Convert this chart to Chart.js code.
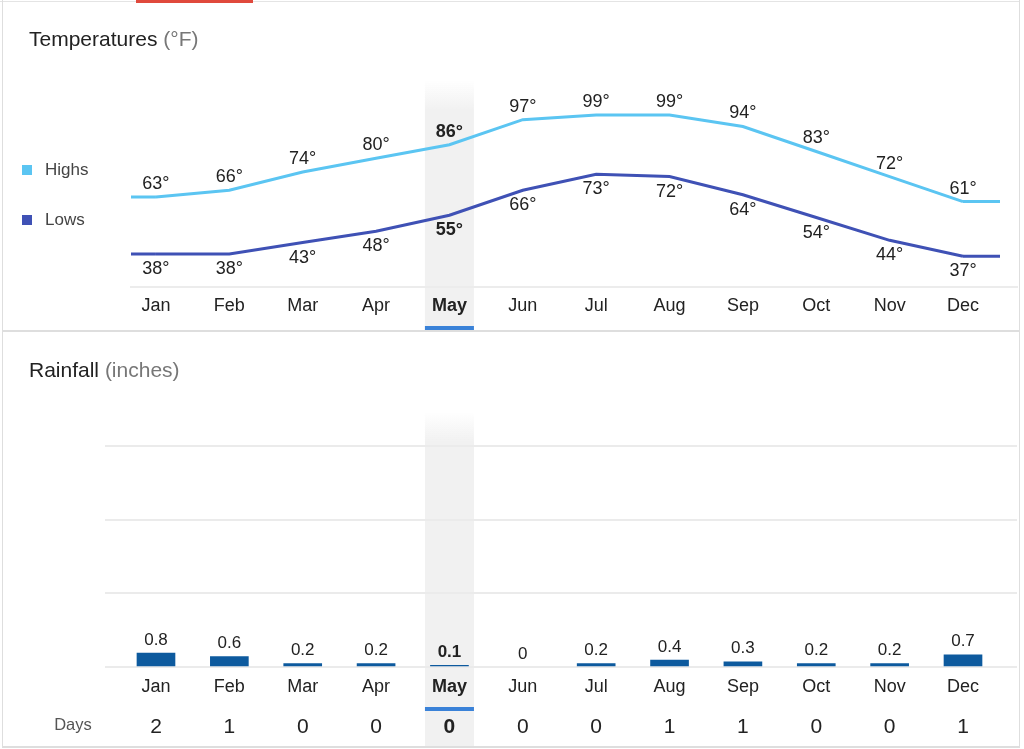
<!DOCTYPE html>
<html><head><meta charset="utf-8">
<script src="https://cdn.jsdelivr.net/npm/chart.js@4.4.0/dist/chart.umd.min.js"></script>
<style>
html,body{margin:0;padding:0;background:#fff;width:1024px;height:749px;overflow:hidden;font-family:"Liberation Sans",Arial,Helvetica,sans-serif;}
#wrap{position:relative;width:1024px;height:749px;}
.abs{position:absolute;}
.title{font-size:21px;line-height:24px;color:#222;white-space:nowrap;}
.title span{color:#777;}
.leg{font-size:17px;line-height:20px;color:#444;}
.sq{width:10px;height:10px;}
</style></head>
<body><div id="wrap">
<div class="abs" style="left:0;top:1px;width:1020px;height:1px;background:#e4e4e4"></div>
<div class="abs" style="left:136px;top:0;width:117px;height:3px;background:#e0493c"></div>
<div class="abs" style="left:2px;top:0;width:1px;height:748px;background:#dedede"></div>
<div class="abs" style="left:1019px;top:0;width:1px;height:748px;background:#dedede"></div>
<div class="abs" style="left:2px;top:746px;width:1018px;height:2px;background:#dedede"></div>

<canvas id="temp" class="abs" style="left:0;top:0" width="1024" height="331"></canvas>
<canvas id="rain" class="abs" style="left:0;top:331px" width="1024" height="418"></canvas>
<div class="abs" style="left:2px;top:330px;width:1018px;height:2px;background:#dedede"></div>

<div class="abs title" style="left:29px;top:27px">Temperatures <span>(°F)</span></div>
<div class="abs title" style="left:29px;top:358px">Rainfall <span>(inches)</span></div>
<div class="abs sq" style="left:22px;top:165px;background:#5bc5f2"></div>
<div class="abs leg" style="left:45px;top:160px">Highs</div>
<div class="abs sq" style="left:22px;top:215px;background:#3f51b5"></div>
<div class="abs leg" style="left:45px;top:210px">Lows</div>
</div>
<script>
const months = ['Jan','Feb','Mar','Apr','May','Jun','Jul','Aug','Sep','Oct','Nov','Dec'];
const highs = [63,66,74,80,86,97,99,99,94,83,72,61];
const lows = [38,38,43,48,55,66,73,72,64,54,44,37];
const rainfall = [0.8,0.6,0.2,0.2,0.1,0,0.2,0.4,0.3,0.2,0.2,0.7];
const rainDays = [2,1,0,0,0,0,0,1,1,0,0,1];
const highlightIndex = 4;
const tempScale = {min:23.5, max:118.8};
const rainTicks = [0,4.2,8.4,12.6];

const FONT = '"Liberation Sans", Arial, Helvetica, sans-serif';
const HIGH_COLOR = '#5bc5f2';
const LOW_COLOR = '#3f51b5';
const BAR_COLOR = '#0d5a9e';
const TEXT = '#222';

function bandPlugin(top, fadeLen, bottom, ulTop){
  return {
    id:'band',
    beforeDraw(chart){
      const c = chart.ctx, xs = chart.scales.x;
      const cx = xs.getPixelForValue(highlightIndex);
      const x0 = cx - 24.5, w = 49;
      const g = c.createLinearGradient(0, top, 0, top + fadeLen);
      g.addColorStop(0,'rgba(241,241,241,0)');
      g.addColorStop(1,'rgba(241,241,241,1)');
      c.save();
      c.fillStyle = g;
      c.fillRect(x0, top, w, fadeLen);
      c.fillStyle = '#f1f1f1';
      c.fillRect(x0, top + fadeLen, w, bottom - top - fadeLen);
      c.fillStyle = '#3a82d8';
      c.fillRect(x0, ulTop, w, 4);
      c.restore();
    }
  };
}

const lineExtend = {
  id:'lineExtend',
  afterDatasetsDraw(chart){
    const c = chart.ctx;
    chart.data.datasets.forEach((ds,i)=>{
      const pts = chart.getDatasetMeta(i).data;
      const f = pts[0], l = pts[pts.length-1];
      c.save();
      c.strokeStyle = ds.borderColor; c.lineWidth = ds.borderWidth; c.lineCap='butt';
      c.beginPath();
      c.moveTo(chart.chartArea.left, f.y); c.lineTo(f.x, f.y);
      c.moveTo(l.x, l.y); c.lineTo(l.x + 37, l.y);
      c.stroke();
      c.restore();
    });
  }
};

const lineLabels = {
  id:'lineLabels',
  afterDatasetsDraw(chart){
    const c = chart.ctx;
    c.save();
    c.textAlign='center'; c.textBaseline='middle'; c.fillStyle=TEXT;
    chart.data.datasets.forEach((ds,i)=>{
      chart.getDatasetMeta(i).data.forEach((p,j)=>{
        c.font = (j===highlightIndex?'bold ':'') + '18px ' + FONT;
        c.fillText(ds.data[j].y + '°', p.x, p.y + ds.labelOffset);
      });
    });
    c.restore();
  }
};

new Chart(document.getElementById('temp'), {
  type:'line',
  data:{datasets:[
    {label:'Highs', data:highs.map((v,i)=>({x:i,y:v})), borderColor:HIGH_COLOR, borderWidth:3, pointRadius:0, tension:0, labelOffset:-13},
    {label:'Lows', data:lows.map((v,i)=>({x:i,y:v})), borderColor:LOW_COLOR, borderWidth:3, pointRadius:0, tension:0, labelOffset:15}
  ]},
  options:{
    responsive:false, animation:false, events:[],
    layout:{padding:{left:131,right:7,top:70,bottom:0}},
    plugins:{legend:{display:false},tooltip:{enabled:false}},
    scales:{
      x:{type:'linear', min:-0.34, max:11.736,
        afterBuildTicks:s=>{s.ticks = months.map((m,i)=>({value:i}));},
        afterFit:s=>{s.height=44;},
        grid:{display:false}, border:{display:true,color:'#ececec',width:2},
        ticks:{padding:0, autoSkip:false, maxRotation:0, minRotation:0, color:TEXT,
          font:c=>({size:18, family:FONT, weight:(c.index===highlightIndex?'bold':'normal')}),
          callback:v=>months[v]}},
      y:{display:false, min:tempScale.min, max:tempScale.max}
    }
  },
  plugins:[bandPlugin(80,30,331,326), lineExtend, lineLabels]
});

const barLabels = {
  id:'barLabels',
  afterDatasetsDraw(chart){
    const c = chart.ctx;
    c.save();
    c.textAlign='center'; c.textBaseline='middle'; c.fillStyle=TEXT;
    chart.getDatasetMeta(0).data.forEach((b,j)=>{
      c.font = (j===highlightIndex?'bold ':'') + '17px ' + FONT;
      c.fillText(String(rainfall[j]), b.x, b.y - 13);
    });
    c.restore();
  },
  afterDraw(chart){
    const c = chart.ctx, xs = chart.scales.x;
    c.save();
    c.textAlign='center'; c.textBaseline='middle';
    c.fillStyle='#555'; c.font='16.5px ' + FONT;
    c.fillText('Days', 73, 394);
    c.fillStyle=TEXT;
    rainDays.forEach((d,j)=>{
      c.font = (j===highlightIndex?'bold ':'') + '21px ' + FONT;
      c.fillText(String(d), xs.getPixelForValue(j), 396);
    });
    c.restore();
  }
};

new Chart(document.getElementById('rain'), {
  type:'bar',
  data:{datasets:[{label:'Rainfall', data:rainfall.map((v,i)=>({x:i,y:v})),
    backgroundColor:c=>(c.raw && c.raw.y===0 ? 'rgba(0,0,0,0)' : BAR_COLOR), barThickness:38, borderWidth:0}]},
  options:{
    responsive:false, animation:false, events:[],
    layout:{padding:{left:105,right:7,top:115,bottom:0}},
    plugins:{legend:{display:false},tooltip:{enabled:false}},
    scales:{
      x:{type:'linear', min:-0.695, max:11.736, offset:false,
        afterBuildTicks:s=>{s.ticks = months.map((m,i)=>({value:i}));},
        afterFit:s=>{s.height=82;},
        grid:{display:false}, border:{display:false},
        ticks:{padding:1, autoSkip:false, maxRotation:0, minRotation:0, color:TEXT,
          font:c=>({size:18, family:FONT, weight:(c.index===highlightIndex?'bold':'normal')}),
          callback:v=>months[v]}},
      y:{min:0, max:12.6,
        afterBuildTicks:s=>{s.ticks = rainTicks.map(v=>({value:v}));},
        afterFit:s=>{s.width=0;},
        ticks:{display:false}, border:{display:false},
        grid:{color:'#ebebeb', lineWidth:2, drawTicks:false}}
    }
  },
  plugins:[bandPlugin(81,30,415,376), barLabels]
});
</script>
</body></html>
